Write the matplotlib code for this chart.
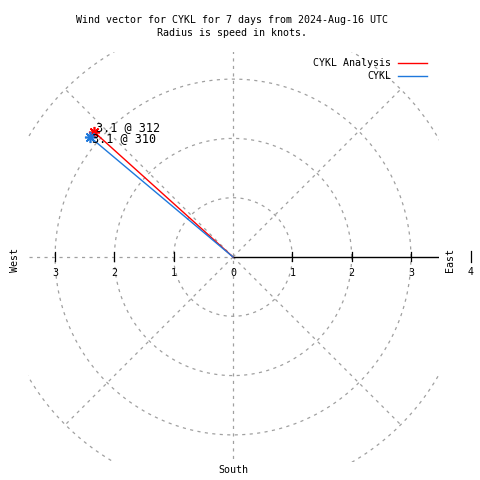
import numpy as np
import matplotlib
matplotlib.use("Agg")
import matplotlib.pyplot as plt

# Wind vectors (speed in knots, direction in degrees the wind comes from)
series_names = ["CYKL Analysis", "CYKL"]
speeds = [3.15, 3.15]
directions = [312, 310]
colors = ["#ff0000", "#1e78dc"]

ring_radii = [1, 2, 3, 4]
tick_values = [1, 2, 3]

plt.rcParams["font.family"] = "DejaVu Sans Mono"
plt.rcParams["font.size"] = 7.2

fig = plt.figure(figsize=(4.8, 4.8), dpi=100)
ax = fig.add_axes([28 / 480, 1 - 462 / 480, 411 / 480, 410 / 480])
ax.set_xlim(-205 / 59.3, 206 / 59.3)
ax.set_ylim(-205 / 59.3, 205 / 59.3)
ax.set_axis_off()

grid = dict(color="#a0a0a0", lw=0.9, ls=(0, (2.5, 3.5)))

# Rings
theta = np.linspace(0, 2 * np.pi, 400)
for r in ring_radii:
    ax.plot(r * np.cos(theta), r * np.sin(theta), **grid)

# Spokes
for a in [45, 135, 225, 315]:
    ax.plot([0, 4 * np.cos(np.radians(a))], [0, 4 * np.sin(np.radians(a))], **grid)
ax.plot([0, 0], [-4, 4], **grid)
ax.plot([-4, 0], [0, 0], **grid)

# Radial axis (east)
ax.plot([0, 4], [0, 0], color="black", lw=1.0)
for t in tick_values:
    for s in (-1, 1):
        ax.plot([s * t, s * t], [-0.07, 0.09], color="black", lw=0.9)
        ax.text(s * t, -0.27, str(t), ha="center", va="center")
ax.text(0, -0.27, "0", ha="center", va="center")

# Wind vectors
for name, spd, d, c in zip(series_names, speeds, directions, colors):
    x = spd * np.sin(np.radians(d))
    y = spd * np.cos(np.radians(d))
    ax.plot([0, x], [0, y], color=c, lw=1.0)
    ax.plot([x], [y], marker=(8, 2, 0), color=c, ms=8, mew=1.2, ls="none")

offsets = [0.07, -0.03]
for spd, d, dy in zip(speeds, directions, offsets):
    x = spd * np.sin(np.radians(d))
    y = spd * np.cos(np.radians(d))
    ax.text(x + 0.03, y + dy, f"{spd:.1f} @ {d}", ha="left", va="center",
            fontsize=8.5)

# Title and legend
fig.text(232 / 480, 1 - 20 / 480, "Wind vector for CYKL for 7 days from 2024-Aug-16 UTC",
         ha="center", va="center")
fig.text(232 / 480, 1 - 33 / 480, "Radius is speed in knots.", ha="center", va="center")
for i, (name, c) in enumerate(zip(series_names, colors)):
    yy = 1 - (63 + 13 * i) / 480
    fig.text(391 / 480, yy, name, ha="right", va="center")
    fig.add_artist(plt.Line2D([398 / 480, 427 / 480], [yy, yy], color=c, lw=1.0,
                              transform=fig.transFigure))

# Compass labels
fig.text(15 / 480, 1 - 260 / 480, "West", rotation=90, ha="center", va="center")
fig.text(450 / 480, 1 - 260 / 480, "East", rotation=90, ha="center", va="center")
fig.text(233 / 480, 1 - 470 / 480, "South", ha="center", va="center")
fig.text(471 / 480, 1 - 272 / 480, "4", ha="center", va="center")
fig.add_artist(plt.Line2D([471 / 480, 471 / 480], [1 - 251 / 480, 1 - 262 / 480],
                          color="black", lw=0.9, transform=fig.transFigure))

fig.savefig("out.png", dpi=100)
